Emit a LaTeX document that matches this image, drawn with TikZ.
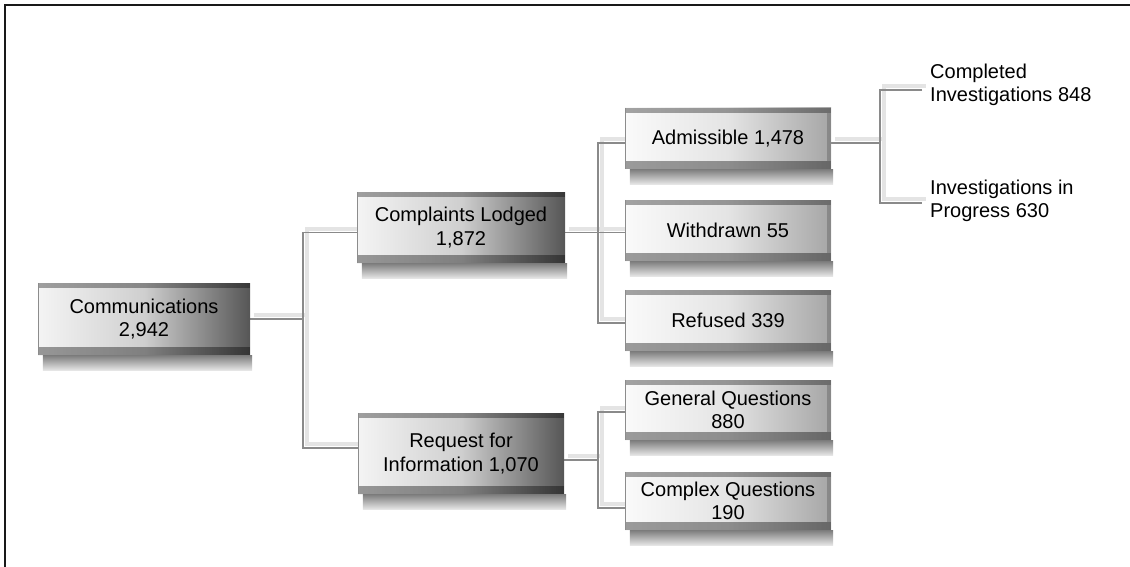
\documentclass[tikz,border=0pt]{standalone}
\usepackage{fontspec}
\setmainfont{Liberation Sans}
\usetikzlibrary{backgrounds}
\definecolor{mainL}{HTML}{F4F4F4}
\definecolor{mainM}{HTML}{CFCFCF}
\definecolor{mainR}{HTML}{565656}
\definecolor{leafL}{HTML}{FAFAFA}
\definecolor{leafM}{HTML}{E4E4E4}
\definecolor{leafR}{HTML}{A6A6A6}
\definecolor{lineC}{HTML}{8A8A8A}
\definecolor{lineS}{HTML}{E4E4E4}
\definecolor{shadowTop}{HTML}{7C7C7C}
\definecolor{shadowBot}{HTML}{E6E6E6}
\newcommand\myconnpaths[1]{%
  \draw[#1] (comm.east) -- (comm.east -| j1);
  \draw[#1] ([yshift=-5pt]compl.west) -| (j1) |- ([yshift=5.5pt]req.west);
  \draw[#1] ([yshift=-5pt]compl.east) -- ([yshift=-5pt]compl.east -| wd.west);
  \draw[#1] ([yshift=-4.5pt]adm.west) -| (j2) |- ([yshift=-2.5pt]ref.west);
  \draw[#1] ([yshift=-6.5pt]req.east) -- ([yshift=-6.5pt]req.east -| j3);
  \draw[#1] ([yshift=-2pt]gen.west) -| (j3) |- ([yshift=-7pt]cpx.west);
  \draw[#1] ([yshift=-4.5pt]adm.east) -- ([yshift=-4.5pt]adm.east -| j4);
  \draw[#1] ([xshift=-8pt,yshift=-5pt]cinv.west) -| (j4) |- ([xshift=-8pt,yshift=-2pt]pinv.west);
}
\begin{document}
\begin{tikzpicture}[x=1pt,y=-1pt,
  face/.style={rectangle, inner sep=0pt, align=center, text=black,
    font=\fontsize{20}{23.5}\selectfont},
  mainbox/.style={face, left color=mainL, right color=mainR, middle color=mainM},
  leafbox/.style={face, left color=leafL, right color=leafR, middle color=leafM},
  lbl/.style={inner sep=0pt, align=left, anchor=west, text=black,
    font=\fontsize{20}{23.5}\selectfont},
  conn/.style={draw=lineC, line width=1.8pt},
  connshadow/.style={draw=lineS, line width=4pt, transform canvas={xshift=4pt,yshift=4pt}},
  frameline/.style={draw=black!90, line width=2pt}
]
\useasboundingbox (0,0) rectangle (1130,567);
\draw[frameline] (5,567) -- (5,5) -- (1130,5);

% boxes
\node[mainbox, minimum width=212pt, minimum height=72pt] (comm) at (144,319) {Communications\\2,942};
\node[mainbox, minimum width=208pt, minimum height=71pt] (compl) at (461,227.5) {Complaints Lodged\\1,872};
\node[mainbox, minimum width=206pt, minimum height=81pt] (req) at (461,453.5) {Request for\\Information 1,070};
\node[leafbox, minimum width=206pt, minimum height=61pt] (adm) at (728,138.5) {Admissible 1,478};
\node[leafbox, minimum width=206pt, minimum height=61pt] (wd) at (728,230.5) {Withdrawn 55};
\node[leafbox, minimum width=206pt, minimum height=61pt] (ref) at (728,320.5) {Refused 339};
\node[leafbox, minimum width=206pt, minimum height=60pt] (gen) at (728,410) {General Questions\\880};
\node[leafbox, minimum width=206pt, minimum height=58pt] (cpx) at (728,501) {Complex Questions\\190};
\node[lbl] (cinv) at (930,85) {Completed\\Investigations 848};
\node[lbl] (pinv) at (930,201) {Investigations in\\Progress 630};

% junctions
\coordinate (j1) at (303,317);
\coordinate (j2) at (598,233);
\coordinate (j3) at (598,460);
\coordinate (j4) at (880,143);

% box relief
\foreach \n in {comm,compl,req,adm,wd,ref,gen,cpx}{
  \shade[top color=shadowTop, bottom color=shadowBot]
    ([xshift=5pt]\n.south west) rectangle ([xshift=2pt,yshift=-15pt]\n.south east);
  \fill[black, opacity=.38] ([yshift=8pt]\n.south west) rectangle (\n.south east);
  \fill[black, opacity=.35] (\n.north west) rectangle ([yshift=-5pt]\n.north east);
  \draw[black!45, line width=1.5pt] ([xshift=.75pt]\n.north west) -- ([xshift=.75pt]\n.south west);
}
\foreach \n in {adm,wd,ref,gen,cpx}{
  \fill[black, opacity=.18] ([xshift=-4pt,yshift=-5pt]\n.north east) rectangle ([yshift=8pt]\n.south east);
}

% connectors
\begin{pgfonlayer}{background}
  \myconnpaths{connshadow}
  \myconnpaths{conn}
\end{pgfonlayer}
\end{tikzpicture}
\end{document}
